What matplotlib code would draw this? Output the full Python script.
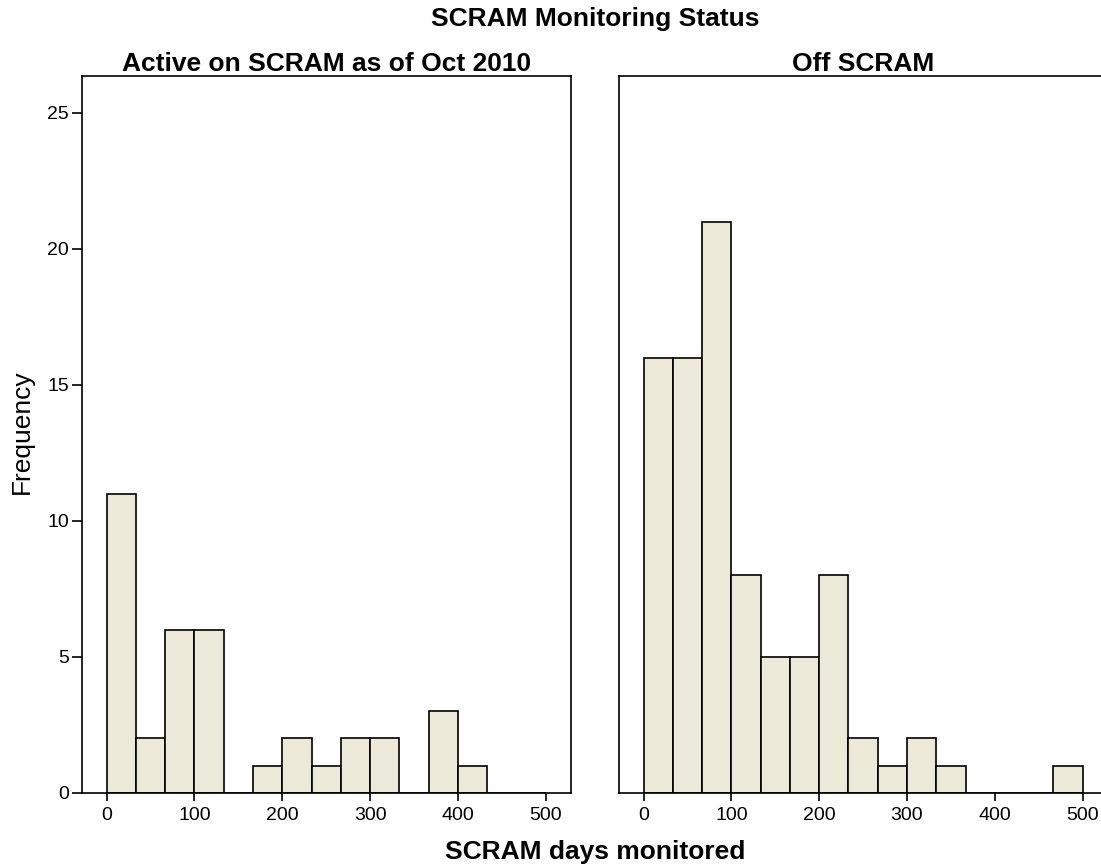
import matplotlib.pyplot as plt
import numpy as np

plt.rcParams['font.family'] = ['Liberation Sans', 'DejaVu Sans']

# Histogram bins: width 100/3 days, starting at 0
bin_width = 100 / 3
panel_titles = ['Active on SCRAM as of Oct 2010', 'Off SCRAM']
active_counts = [11, 2, 6, 6, 0, 1, 2, 1, 2, 2, 0, 3, 1, 0, 0]
off_counts = [16, 16, 21, 8, 5, 5, 8, 2, 1, 2, 1, 0, 0, 0, 1]
x_ticks = [0, 100, 200, 300, 400, 500]
y_ticks = [0, 5, 10, 15, 20, 25]

fill = '#ECE9D8'

fig = plt.figure(figsize=(11.01, 8.67), dpi=100)
ax1 = fig.add_axes([0.0742, 0.0857, 0.4441, 0.8266])
ax2 = fig.add_axes([0.5619, 0.0857, 0.4441, 0.8266])

for ax, counts, title in [(ax1, active_counts, panel_titles[0]),
                          (ax2, off_counts, panel_titles[1])]:
    edges = np.arange(len(counts)) * bin_width
    ax.bar(edges, counts, width=bin_width, align='edge', color=fill,
           edgecolor='black', linewidth=1.2, zorder=2)
    ax.set_xlim(-28.5, 528.5)
    ax.set_ylim(0, 26.35)
    ax.set_xticks(x_ticks)
    ax.tick_params(axis='x', direction='out', length=6, width=1.2,
                   labelsize=14, pad=4)
    for s in ax.spines.values():
        s.set_linewidth(1.2)
    ax.set_title(title, fontsize=19, fontweight='bold', pad=3)

ax1.set_yticks(y_ticks)
ax1.tick_params(axis='y', direction='out', length=7, width=1.2,
                labelsize=14, pad=2)
ax2.set_yticks([])

fig.text(595 / 1101, 1 - 19 / 867, 'SCRAM Monitoring Status', fontsize=19,
         fontweight='bold', ha='center', va='center')
fig.text(595 / 1101, 1 - 852 / 867, 'SCRAM days monitored', fontsize=19,
         fontweight='bold', ha='center', va='center')
fig.text(22 / 1101, 1 - 432 / 867, 'Frequency', fontsize=19,
         rotation=90, ha='center', va='center')

fig.savefig('out.png', dpi=100)
